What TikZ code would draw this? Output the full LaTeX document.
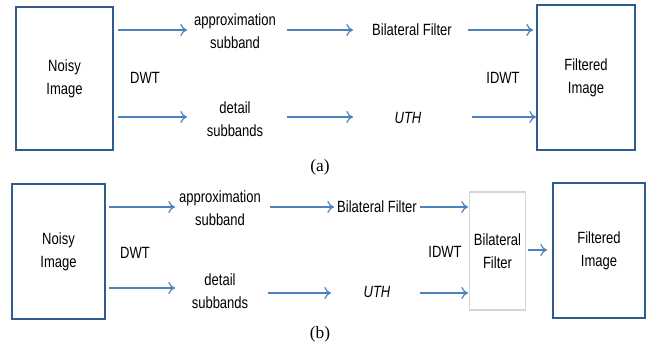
\documentclass[tikz,border=0pt]{standalone}
\usepackage{fontspec}
\setmainfont[FakeStretch=0.8]{Liberation Sans}
\newfontfamily\capfont{Liberation Serif}
\usetikzlibrary{arrows.meta}
\definecolor{boxblue}{HTML}{2E5C8E}
\definecolor{arrblue}{HTML}{4F81BD}
\definecolor{lightgr}{HTML}{D6D6D6}
\begin{document}
\begin{tikzpicture}[x=0.75pt,y=-0.75pt,
  bigbox/.style={draw=boxblue,line width=1.6pt,minimum width=0pt,inner sep=0pt},
  lbl/.style={font=\fontsize{12.2}{17}\selectfont,align=center,inner sep=1pt},
  itl/.style={font=\fontsize{12.2}{17}\selectfont\itshape},
  arr/.style={draw=arrblue,line width=0.9pt,-{To[length=5pt,width=9pt]}},
  captxt/.style={font=\capfont\fontsize{13}{15}\selectfont}]
\useasboundingbox (0,0) rectangle (667,349);
% ---------- (a)
\node[bigbox,minimum width=97*0.75pt,minimum height=143*0.75pt,lbl] (na) at (64.5,78.5) {Noisy\\Image};
\node[bigbox,minimum width=98*0.75pt,minimum height=145*0.75pt,lbl] (fa) at (586,77.5) {Filtered\\Image};
\node[lbl] (apa) at (235,31) {approximation\\subband};
\node[lbl] (dea) at (235,119) {detail\\subbands};
\node[lbl] (bfa) at (412,30) {Bilateral Filter};
\node[lbl,itl] (utha) at (408,118) {UTH};
\node[lbl] (dwta) at (145,78) {DWT};
\node[lbl] (idwta) at (503,78) {IDWT};
\coordinate (a1s) at (118,30); \coordinate (a1e) at (187,30);
\coordinate (a2s) at (118,117); \coordinate (a2e) at (187,117);
\coordinate (a3s) at (287,30); \coordinate (a3e) at (353,30);
\coordinate (a4s) at (287,117); \coordinate (a4e) at (353,117);
\coordinate (a5s) at (468,30); \coordinate (a5e) at (533,30);
\coordinate (a6s) at (472,117); \coordinate (a6e) at (536,117);
\draw[arr] (a1s) -- (a1e);
\draw[arr] (a2s) -- (a2e);
\draw[arr] (a3s) -- (a3e);
\draw[arr] (a4s) -- (a4e);
\draw[arr] (a5s) -- (a5e);
\draw[arr] (a6s) -- (a6e);
\node[captxt] (capa) at (320,167) {(a)};
% ---------- (b)
\node[bigbox,minimum width=93*0.75pt,minimum height=135*0.75pt,lbl] (nb) at (58.5,251.5) {Noisy\\Image};
\node[bigbox,minimum width=92*0.75pt,minimum height=135*0.75pt,lbl] (fb) at (599,250.5) {Filtered\\Image};
\node[draw=lightgr,line width=0.8pt,minimum width=56*0.75pt,minimum height=118*0.75pt,lbl] (bfbox) at (497.5,251) {Bilateral\\Filter};
\node[lbl] (apb) at (220,208) {approximation\\subband};
\node[lbl] (deb) at (220,291) {detail\\subbands};
\node[lbl] (bfb) at (377,207) {Bilateral Filter};
\node[lbl,itl] (uthb) at (377,292) {UTH};
\node[lbl] (dwtb) at (135,253) {DWT};
\node[lbl] (idwtb) at (445,252) {IDWT};
\coordinate (b1s) at (109,207); \coordinate (b1e) at (175,207);
\coordinate (b2s) at (109,288); \coordinate (b2e) at (175,288);
\coordinate (b3s) at (270,207); \coordinate (b3e) at (334,207);
\coordinate (b4s) at (268,293); \coordinate (b4e) at (331,293);
\coordinate (b5s) at (420,207); \coordinate (b5e) at (468,207);
\coordinate (b6s) at (420,293); \coordinate (b6e) at (468,293);
\coordinate (b7s) at (528,250); \coordinate (b7e) at (547,250);
\draw[arr] (b1s) -- (b1e);
\draw[arr] (b2s) -- (b2e);
\draw[arr] (b3s) -- (b3e);
\draw[arr] (b4s) -- (b4e);
\draw[arr] (b5s) -- (b5e);
\draw[arr] (b6s) -- (b6e);
\draw[arr] (b7s) -- (b7e);
\node[captxt] (capb) at (320,334) {(b)};
\end{tikzpicture}
\end{document}
